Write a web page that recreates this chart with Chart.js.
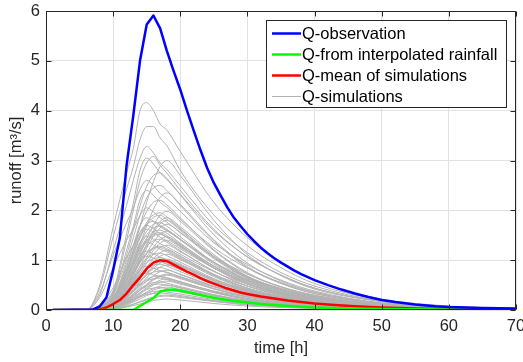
<!DOCTYPE html>
<html><head><meta charset="utf-8">
<script src="https://cdn.jsdelivr.net/npm/chart.js@4"></script>
<style>html,body{margin:0;padding:0;background:#fff}canvas{display:block}</style>
</head><body>
<canvas id="c" width="523" height="362"></canvas>
<script>
const xTicks = [0,10,20,30,40,50,60,70];
const yTicks = [0,1,2,3,4,5,6];
const legendLabels = ['Q-observation','Q-from interpolated rainfall','Q-mean of simulations','Q-simulations'];
const xTitle = 'time [h]';
const yTitle = 'runoff [m³/s]';

const obsTime = [1,7,8,9,10,11,12,13,14,15,16,17,18,19,20,21,22,23,24,25,26,27,28,29,30,31,32,33,34,35,36,37,38,39,40,42,44,46,48,50,52,55,58,60,65,70];
const obsQ    = [0,0.01,0.07,0.25,0.8,1.45,2.9,3.9,5.0,5.73,5.91,5.65,5.2,4.8,4.42,4.0,3.6,3.21,2.85,2.55,2.3,2.06,1.85,1.68,1.52,1.38,1.25,1.14,1.04,0.95,0.87,0.79,0.72,0.66,0.6,0.5,0.41,0.33,0.26,0.2,0.16,0.11,0.075,0.06,0.04,0.03];

const interpTime = [1,13,14,15,16,17,18,19,20,21,22,23,24,25,26,28,30,32,35,38,40,45,50,60,70];
const interpQ    = [0,0,0.08,0.16,0.24,0.37,0.4,0.41,0.39,0.36,0.33,0.3,0.27,0.245,0.22,0.18,0.15,0.12,0.09,0.065,0.05,0.03,0.02,0.01,0.005];

const meanTime = [1,8,9,10,11,12,13,14,15,16,17,18,19,20,21,22,23,24,25,26,27,28,29,30,32,34,36,38,40,43,46,50,55,60,70];
const meanQ    = [0,0.01,0.05,0.12,0.2,0.33,0.5,0.65,0.83,0.95,1.0,0.98,0.91,0.84,0.77,0.71,0.64,0.58,0.53,0.48,0.43,0.39,0.35,0.32,0.27,0.23,0.19,0.16,0.13,0.1,0.075,0.05,0.03,0.02,0.01];

const simTime = [1,6,8,10,12,13,14,15,16,17,18,20,25,30,35,40,50,60,70];
const simQ = [
[0,0,0.5,1.66,2.75,3.24,4.0,4.16,4.0,3.73,3.61,3.18,2.16,1.45,0.96,0.6,0.22,0.08,0.03],
[0,0,0.44,1.47,2.43,2.87,3.42,3.68,3.68,3.45,3.3,2.8,1.91,1.29,0.85,0.53,0.2,0.07,0.03],
[0,0,0.3,1.2,2.1,2.6,3.05,3.28,3.15,2.95,2.82,2.49,1.7,1.15,0.75,0.48,0.18,0.07,0.03],
[0,0,0.05,0.33,1.4,2.0,2.6,2.95,3.08,2.9,2.75,2.4,1.62,1.06,0.7,0.44,0.17,0.06,0.02],
[0,0,0.06,0.37,1.53,2.14,2.8,3.05,2.93,2.75,2.62,2.32,1.59,1.07,0.7,0.44,0.17,0.06,0.02],
[0,0,0.03,0.18,0.75,1.2,1.68,2.16,2.58,2.88,3.0,2.7,1.8,1.11,0.69,0.42,0.17,0.06,0.02],
[0,0,0.08,0.39,1.1,1.6,2.09,2.48,2.7,2.75,2.64,2.31,1.51,0.94,0.58,0.36,0.14,0.06,0.02],
[0,0,0.35,1.1,1.75,2.05,2.42,2.6,2.5,2.34,2.24,1.98,1.35,0.91,0.6,0.38,0.14,0.05,0.02],
[0,0,0.08,0.35,1.0,1.45,1.9,2.25,2.45,2.5,2.4,2.1,1.38,0.85,0.53,0.33,0.13,0.05,0.02],
[0,0,0.02,0.14,0.59,0.94,1.32,1.69,2.02,2.26,2.35,2.12,1.41,0.87,0.54,0.33,0.13,0.05,0.02],
[0,0,0.07,0.31,0.88,1.28,1.67,1.98,2.16,2.2,2.11,1.85,1.21,0.75,0.46,0.29,0.11,0.04,0.02],
[0,0,0.25,0.85,1.4,1.62,1.9,2.05,1.97,1.85,1.76,1.56,1.07,0.72,0.47,0.3,0.11,0.04,0.02],
[0,0,0.02,0.12,0.5,0.79,1.11,1.43,1.7,1.9,1.98,1.78,1.19,0.73,0.46,0.28,0.11,0.04,0.02],
[0,0,0.06,0.27,0.76,1.1,1.44,1.71,1.86,1.9,1.82,1.6,1.05,0.65,0.4,0.25,0.1,0.04,0.02],
[0,0,0.04,0.22,0.93,1.3,1.7,1.85,1.78,1.67,1.59,1.41,0.96,0.65,0.43,0.27,0.1,0.04,0.01],
[0,0,0.02,0.11,0.45,0.72,1.01,1.3,1.55,1.73,1.8,1.62,1.08,0.67,0.41,0.25,0.1,0.04,0.01],
[0,0,0.05,0.25,0.7,1.02,1.33,1.58,1.72,1.75,1.68,1.47,0.96,0.6,0.37,0.23,0.09,0.04,0.01],
[0,0,0.02,0.1,0.43,0.69,0.96,1.24,1.48,1.65,1.72,1.55,1.03,0.64,0.4,0.24,0.09,0.03,0.01],
[0,0,0.05,0.24,0.67,0.97,1.28,1.51,1.65,1.68,1.61,1.41,0.92,0.57,0.35,0.22,0.08,0.03,0.01],
[0,0,0.03,0.19,0.81,1.13,1.49,1.62,1.56,1.46,1.39,1.23,0.84,0.57,0.37,0.23,0.09,0.03,0.01],
[0,0,0.02,0.09,0.4,0.63,0.88,1.14,1.36,1.52,1.58,1.42,0.95,0.58,0.36,0.22,0.09,0.03,0.01],
[0,0,0.05,0.21,0.61,0.88,1.16,1.37,1.49,1.52,1.46,1.28,0.84,0.52,0.32,0.2,0.08,0.03,0.01],
[0,0,0.01,0.09,0.37,0.59,0.82,1.06,1.26,1.41,1.47,1.32,0.88,0.54,0.34,0.21,0.08,0.03,0.01],
[0,0,0.04,0.2,0.57,0.82,1.08,1.28,1.39,1.42,1.36,1.19,0.78,0.48,0.3,0.18,0.07,0.03,0.01],
[0,0,0.03,0.16,0.68,0.95,1.25,1.36,1.31,1.22,1.17,1.03,0.71,0.48,0.31,0.2,0.07,0.03,0.01],
[0,0,0.01,0.08,0.33,0.52,0.73,0.94,1.12,1.25,1.3,1.17,0.78,0.48,0.3,0.18,0.07,0.03,0.01],
[0,0,0.04,0.18,0.5,0.73,0.95,1.13,1.23,1.25,1.2,1.05,0.69,0.43,0.26,0.16,0.06,0.03,0.01],
[0,0,0.01,0.07,0.3,0.48,0.67,0.86,1.03,1.15,1.2,1.08,0.72,0.44,0.28,0.17,0.07,0.02,0.01],
[0,0,0.03,0.16,0.46,0.66,0.87,1.03,1.12,1.14,1.09,0.96,0.63,0.39,0.24,0.15,0.06,0.02,0.01],
[0,0,0.02,0.13,0.54,0.76,0.99,1.08,1.04,0.97,0.93,0.82,0.56,0.38,0.25,0.16,0.06,0.02,0.01],
[0,0,0.01,0.06,0.26,0.41,0.57,0.73,0.88,0.98,1.02,0.92,0.61,0.38,0.23,0.14,0.06,0.02,0.01],
[0,0,0.03,0.13,0.38,0.56,0.73,0.86,0.94,0.96,0.92,0.81,0.53,0.33,0.2,0.12,0.05,0.02,0.01],
[0,0,0.01,0.05,0.23,0.36,0.5,0.65,0.77,0.86,0.9,0.81,0.54,0.33,0.21,0.13,0.05,0.02,0.01],
[0,0,0.03,0.12,0.34,0.49,0.65,0.77,0.83,0.85,0.82,0.71,0.47,0.29,0.18,0.11,0.04,0.02,0.01],
[0,0,0.01,0.05,0.2,0.32,0.45,0.58,0.69,0.77,0.8,0.72,0.48,0.3,0.18,0.11,0.04,0.02,0.01],
[0,0,0.01,0.09,0.37,0.52,0.68,0.74,0.71,0.67,0.64,0.56,0.38,0.26,0.17,0.11,0.04,0.01,0.01],
[0,0,0.02,0.1,0.27,0.39,0.52,0.61,0.67,0.68,0.65,0.57,0.37,0.23,0.14,0.09,0.03,0.01,0.01],
[0,0,0.01,0.04,0.16,0.25,0.35,0.45,0.53,0.6,0.62,0.56,0.37,0.23,0.14,0.09,0.03,0.01,0],
[0,0,0.02,0.08,0.22,0.32,0.43,0.5,0.55,0.56,0.54,0.47,0.31,0.19,0.12,0.07,0.03,0.01,0],
[0,0,0.01,0.03,0.13,0.2,0.28,0.36,0.43,0.48,0.5,0.45,0.3,0.19,0.12,0.07,0.03,0.01,0],
[0,0,0.01,0.06,0.18,0.26,0.34,0.41,0.44,0.45,0.43,0.38,0.25,0.15,0.09,0.06,0.02,0.01,0],
[0,0,0,0.02,0.1,0.16,0.22,0.29,0.34,0.38,0.4,0.36,0.24,0.15,0.09,0.06,0.02,0.01,0],
[0,0,0.01,0.05,0.14,0.2,0.26,0.31,0.33,0.34,0.33,0.29,0.19,0.12,0.07,0.04,0.02,0.01,0],
[0,0,0,0.02,0.07,0.11,0.16,0.2,0.24,0.27,0.28,0.25,0.17,0.1,0.06,0.04,0.02,0.01,0],
[0,0,0,0.01,0.06,0.09,0.12,0.16,0.19,0.21,0.22,0.2,0.13,0.08,0.05,0.03,0.01,0,0],
[0,0,0.1,0.45,1.05,1.3,1.55,1.72,1.78,1.7,1.62,1.42,0.95,0.62,0.4,0.25,0.09,0.03,0.01],
[0,0,0.05,0.22,0.64,0.93,1.22,1.44,1.57,1.6,1.54,1.34,0.88,0.54,0.34,0.21,0.08,0.03,0.01],
[0,0,0.01,0.07,0.28,0.45,0.63,0.81,0.96,1.08,1.12,1.01,0.67,0.41,0.26,0.16,0.06,0.02,0.01],
[0,0,0.01,0.04,0.18,0.28,0.39,0.5,0.6,0.67,0.7,0.63,0.42,0.26,0.16,0.1,0.04,0.01,0],
[0,0,0.06,0.27,0.78,1.13,1.48,1.76,1.91,1.95,1.87,1.64,1.07,0.66,0.41,0.25,0.1,0.04,0.01],
[0,0,0.02,0.11,0.46,0.74,1.04,1.33,1.59,1.78,1.85,1.67,1.11,0.68,0.43,0.26,0.1,0.04,0.01],
[0,0,0.03,0.2,0.85,1.19,1.56,1.7,1.63,1.53,1.46,1.29,0.88,0.6,0.39,0.25,0.09,0.03,0.01],
[0,0,0.05,0.22,0.62,0.9,1.18,1.4,1.52,1.55,1.49,1.3,0.85,0.53,0.33,0.2,0.08,0.03,0.01],
[0,0,0.01,0.08,0.35,0.56,0.78,1.01,1.2,1.34,1.4,1.26,0.84,0.52,0.32,0.2,0.08,0.03,0.01],
[0,0,0.04,0.18,0.51,0.74,0.97,1.15,1.25,1.28,1.23,1.08,0.7,0.44,0.27,0.17,0.06,0.03,0.01],
[0,0,0.02,0.14,0.59,0.83,1.09,1.18,1.13,1.06,1.01,0.9,0.61,0.41,0.27,0.17,0.06,0.02,0.01],
[0,0,0.03,0.15,0.42,0.61,0.8,0.95,1.03,1.05,1.01,0.88,0.58,0.36,0.22,0.14,0.05,0.02,0.01],
[0,0,0.01,0.06,0.25,0.39,0.55,0.71,0.84,0.94,0.98,0.88,0.59,0.36,0.23,0.14,0.05,0.02,0.01],
[0,0,0.02,0.11,0.44,0.62,0.81,0.88,0.84,0.79,0.76,0.67,0.46,0.31,0.2,0.13,0.05,0.02,0.01],
[0,0,0.02,0.11,0.31,0.45,0.59,0.7,0.76,0.78,0.75,0.66,0.43,0.27,0.16,0.1,0.04,0.02,0.01],
[0,0,0.01,0.04,0.18,0.29,0.4,0.52,0.62,0.69,0.72,0.65,0.43,0.27,0.17,0.1,0.04,0.01,0.01],
[0,0,0.02,0.09,0.26,0.37,0.49,0.58,0.63,0.64,0.61,0.54,0.35,0.22,0.13,0.08,0.03,0.01,0.01],
[0,0,0.01,0.03,0.15,0.23,0.32,0.42,0.5,0.56,0.58,0.52,0.35,0.21,0.13,0.08,0.03,0.01,0],
[0,0,0.02,0.07,0.21,0.3,0.4,0.47,0.51,0.52,0.5,0.44,0.29,0.18,0.11,0.07,0.03,0.01,0],
[0,0,0,0.03,0.12,0.18,0.26,0.33,0.4,0.44,0.46,0.41,0.28,0.17,0.11,0.06,0.03,0.01,0],
[0,0,0.01,0.05,0.15,0.22,0.29,0.34,0.37,0.38,0.36,0.32,0.21,0.13,0.08,0.05,0.02,0.01,0],
[0,0,0,0.02,0.08,0.12,0.17,0.22,0.26,0.29,0.3,0.27,0.18,0.11,0.07,0.04,0.02,0.01,0],
[0,0,0.03,0.18,0.74,1.04,1.36,1.48,1.42,1.33,1.27,1.12,0.77,0.52,0.34,0.21,0.08,0.03,0.01],
[0,0,0.03,0.13,0.37,0.53,0.7,0.83,0.9,0.92,0.88,0.77,0.51,0.31,0.19,0.12,0.05,0.02,0.01],
[0,0,0.05,0.29,1.2,1.68,2.21,2.4,2.3,2.16,2.06,1.82,1.25,0.84,0.55,0.35,0.13,0.05,0.02]
];

const COLORS = {obs:'#0000ff', interp:'#00ff00', mean:'#ff0000', sim:'#b2b2b2'};
const FONT = '"Liberation Sans", Arial, Helvetica, sans-serif';
const FS = 16.5;
const AX = '#262626';

function pts(t, q){ return t.map((x,i)=>({x:x, y:q[i]})); }
const mainBase = {pointRadius:0, pointHoverRadius:0, fill:false, tension:0, borderWidth:2.5, borderJoinStyle:'round'};
const simBase = {pointRadius:0, pointHoverRadius:0, fill:false, cubicInterpolationMode:'monotone', borderWidth:1};
const datasets = [
  Object.assign({label:legendLabels[0], data:pts(obsTime,obsQ), borderColor:COLORS.obs}, mainBase),
  Object.assign({label:legendLabels[1], data:pts(interpTime,interpQ), borderColor:COLORS.interp}, mainBase),
  Object.assign({label:legendLabels[2], data:pts(meanTime,meanQ), borderColor:COLORS.mean}, mainBase)
].concat(simQ.map((q,i)=>Object.assign({label: legendLabels[3] + ' ' + (i+1), data:pts(simTime,q), borderColor:COLORS.sim}, simBase)));

const legendItems = [
  {text:legendLabels[0], color:COLORS.obs, w:2.5},
  {text:legendLabels[1], color:COLORS.interp, w:2.5},
  {text:legendLabels[2], color:COLORS.mean, w:2.5},
  {text:legendLabels[3], color:COLORS.sim, w:1}
];

const framePlugin = {
  id:'frame',
  afterDatasetsDraw(chart){
    const {ctx, chartArea:a, scales} = chart;
    ctx.save();
    ctx.strokeStyle = AX; ctx.lineWidth = 1;
    const L = Math.round(a.left)+0.5, R = Math.round(a.right)-0.5, T = Math.round(a.top)+0.5, B = Math.round(a.bottom)-0.5;
    ctx.beginPath();
    ctx.rect(L, T, R-L, B-T);
    ctx.stroke();
    const tl = 5;
    ctx.beginPath();
    xTicks.forEach(v=>{
      const x = Math.round(scales.x.getPixelForValue(v))+0.5;
      ctx.moveTo(x,B); ctx.lineTo(x,B-tl);
      ctx.moveTo(x,T); ctx.lineTo(x,T+tl);
    });
    yTicks.forEach(v=>{
      const y = Math.round(scales.y.getPixelForValue(v))+0.5;
      ctx.moveTo(L,y); ctx.lineTo(L+tl,y);
      ctx.moveTo(R,y); ctx.lineTo(R-tl,y);
    });
    ctx.stroke();
    ctx.restore();
  },
  afterDraw(chart){
    const ctx = chart.ctx;
    ctx.save();
    const bx = 266.5, by = 20.5, bw = 240, bh = 87;
    ctx.fillStyle = '#ffffff';
    ctx.fillRect(bx, by, bw, bh);
    ctx.strokeStyle = AX; ctx.lineWidth = 1;
    ctx.strokeRect(bx, by, bw, bh);
    const rows = [33.5, 54.5, 75.5, 96.5];
    ctx.font = FS + 'px ' + FONT;
    ctx.textBaseline = 'middle';
    ctx.textAlign = 'left';
    legendItems.forEach((it,i)=>{
      ctx.strokeStyle = it.color; ctx.lineWidth = it.w;
      ctx.beginPath(); ctx.moveTo(272, rows[i]); ctx.lineTo(301, rows[i]); ctx.stroke();
      ctx.fillStyle = '#000000';
      ctx.fillText(it.text, 302, rows[i]+1);
    });
    ctx.restore();
  }
};

Chart.defaults.font.family = FONT;
new Chart(document.getElementById('c'), {
  type:'line',
  data:{datasets:datasets},
  options:{
    responsive:false, animation:false, devicePixelRatio:1,
    layout:{padding:{left:0, right:7, top:11, bottom:0}},
    plugins:{legend:{display:false}, tooltip:{enabled:false}},
    scales:{
      x:{type:'linear', min:0, max:70,
        afterBuildTicks(s){ s.ticks = xTicks.map(v=>({value:v})); },
        ticks:{color:AX, font:{size:FS, family:FONT}, padding:7, maxRotation:0, autoSkip:false},
        grid:{color:'#e2e2e2', drawTicks:false, lineWidth:1},
        border:{display:false},
        title:{display:true, text:xTitle, color:AX, font:{size:FS, family:FONT}, padding:{top:0, bottom:4}},
        afterFit(s){ s.height = 52; s.paddingLeft = 0; s.paddingRight = 0; }
      },
      y:{type:'linear', min:0, max:6,
        afterBuildTicks(s){ s.ticks = yTicks.map(v=>({value:v})); },
        ticks:{color:AX, font:{size:FS, family:FONT}, padding:6, autoSkip:false},
        grid:{color:'#e2e2e2', drawTicks:false, lineWidth:1},
        border:{display:false},
        title:{display:true, text:yTitle, color:AX, font:{size:FS, family:FONT}, padding:{top:7, bottom:0}},
        afterFit(s){ s.width = 46; s.paddingTop = 0; s.paddingBottom = 0; }
      }
    }
  },
  plugins:[framePlugin]
});
</script>
</body></html>
